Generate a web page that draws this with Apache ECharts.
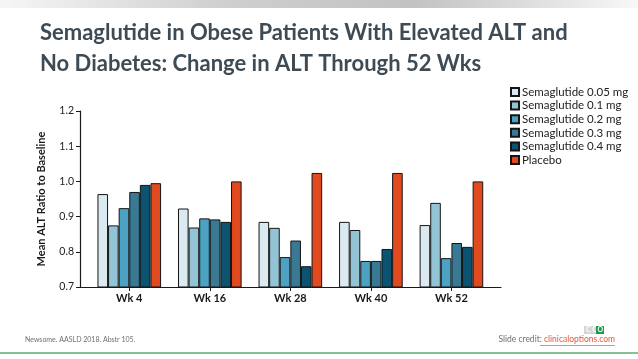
<!DOCTYPE html>
<html>
<head>
<meta charset="utf-8">
<script src="https://cdn.jsdelivr.net/npm/echarts@6/dist/echarts.min.js"></script>
<style>
html,body{margin:0;padding:0;background:#fff;}
#chart{width:638px;height:359px;}
</style>
</head>
<body>
<div id="chart"></div>
<script>
const categories = ['Wk 4', 'Wk 16', 'Wk 28', 'Wk 40', 'Wk 52'];
const seriesNames = ['Semaglutide 0.05 mg', 'Semaglutide 0.1 mg', 'Semaglutide 0.2 mg', 'Semaglutide 0.3 mg', 'Semaglutide 0.4 mg', 'Placebo'];
const sema005 = [0.964, 0.923, 0.885, 0.885, 0.876];
const sema01  = [0.875, 0.869, 0.868, 0.862, 0.939];
const sema02  = [0.924, 0.895, 0.785, 0.774, 0.782];
const sema03  = [0.970, 0.892, 0.832, 0.774, 0.825];
const sema04  = [0.990, 0.885, 0.759, 0.808, 0.814];
const placebo = [0.995, 1.000, 1.024, 1.024, 1.000];
const yTicks = ['0.7', '0.8', '0.9', '1.0', '1.1', '1.2'];

const colors = ['#dbe9f0', '#93c4d6', '#4ca2c2', '#3a7993', '#0b5371', '#e1491f'];
const allData = [sema005, sema01, sema02, sema03, sema04, placebo];

const FONT = 'Lato, "Open Sans", sans-serif';
const chart = echarts.init(document.getElementById('chart'), null, {renderer: 'canvas'});

const series = allData.map((d, i) => ({
  name: seriesNames[i],
  type: 'bar',
  xAxisIndex: 1,
  yAxisIndex: 1,
  data: d,
  barGap: '0%',
  barCategoryGap: '21%',
  itemStyle: {color: colors[i], borderColor: '#151515', borderWidth: 1},
  emphasis: {disabled: true},
  animation: false
}));

chart.setOption({
  animation: false,
  textStyle: {fontFamily: FONT},
  title: {
    text: 'Semaglutide in Obese Patients With Elevated ALT and\nNo Diabetes: Change in ALT Through 52 Wks',
    left: 35, top: 12,
    textStyle: {fontFamily: FONT, fontSize: 22, fontWeight: 'bold', color: '#3e4a54', lineHeight: 31.5}
  },
  legend: {
    orient: 'vertical',
    left: 505, top: 81,
    itemWidth: 8, itemHeight: 8, itemGap: 1.6,
    icon: 'rect',
    textStyle: {fontFamily: FONT, fontSize: 11.5, color: '#222', lineHeight: 11, padding: [0,0,0,-2]},
    data: seriesNames
  },
  grid: [
    {left: 80, top: 111, width: 421, height: 176},
    {left: 89, top: 111, width: 402.7, height: 176}
  ],
  xAxis: [
    {type: 'category', gridIndex: 0, data: [''],
     axisLine: {show: true, lineStyle: {color: '#1a1a1a', width: 1.2}},
     axisTick: {show: false}, axisLabel: {show: false}, splitLine: {show: false}},
    {type: 'category', gridIndex: 1, data: categories,
     axisLine: {show: false},
     axisTick: {show: true, alignWithLabel: true, length: 4, lineStyle: {color: '#1a1a1a'}},
     axisLabel: {fontFamily: FONT, fontSize: 11, fontWeight: 'bold', color: '#1a1a1a', margin: 6}}
  ],
  yAxis: [
    {type: 'value', gridIndex: 0, min: 0.7, max: 1.2, interval: 0.1,
     name: 'Mean ALT Ratio to Baseline', nameLocation: 'middle', nameGap: 33,
     nameTextStyle: {fontFamily: FONT, fontSize: 11, fontWeight: 'bold', color: '#1a1a1a'},
     axisLine: {show: true, lineStyle: {color: '#1a1a1a', width: 1.2}},
     axisTick: {show: true, length: 4, lineStyle: {color: '#1a1a1a'}},
     axisLabel: {fontFamily: FONT, fontSize: 10.5, color: '#222', margin: 6,
       formatter: (v) => yTicks[Math.round((v - 0.7) * 10)] || v.toFixed(1)},
     splitLine: {show: false}},
    {type: 'value', gridIndex: 1, min: 0.7, max: 1.2, interval: 0.1, show: false, splitLine: {show: false}}
  ],
  series: series,
  graphic: [
    {type: 'rect', left: 0, top: 0, z: 0, shape: {width: 638, height: 8},
     style: {fill: new echarts.graphic.LinearGradient(0, 0, 1, 0, [
       {offset: 0, color: '#f6f6f6'}, {offset: 0.35, color: '#cfcfcf'},
       {offset: 0.65, color: '#c2c2c2'}, {offset: 1, color: '#f8f8f8'}])}},
    {type: 'rect', left: 0, top: 352, shape: {width: 638, height: 2}, style: {fill: '#86bf98'}},
    {type: 'text', left: 25, top: 336, style: {text: 'Newsome. AASLD 2018. Abstr 105.', fill: '#707070', font: '7px ' + FONT}},
    {type: 'text', right: 23, top: 335, style: {text: '{a|Slide credit: }{b|clinicaloptions.com}', rich: {
      a: {fill: '#707070', font: '8.5px ' + FONT}, b: {fill: '#e0583a', font: '8.5px ' + FONT}}}},
    {type: 'line', shape: {x1: 540, y1: 345.5, x2: 615, y2: 345.5}, style: {stroke: '#e0583a', lineWidth: 0.7}},
    {type: 'rect', left: 584, top: 326, shape: {width: 12, height: 8}, style: {fill: '#d6d6d6'}},
    {type: 'text', left: 586, top: 326, style: {text: 'C C', fill: '#ffffff', font: 'bold 7px ' + FONT}},
    {type: 'rect', left: 596, top: 326, shape: {width: 8, height: 8}, style: {fill: '#1f9a4c'}},
    {type: 'text', left: 597.5, top: 326, style: {text: 'O', fill: '#ffffff', font: 'bold 7px ' + FONT}}
  ]
});
</script>
</body>
</html>
